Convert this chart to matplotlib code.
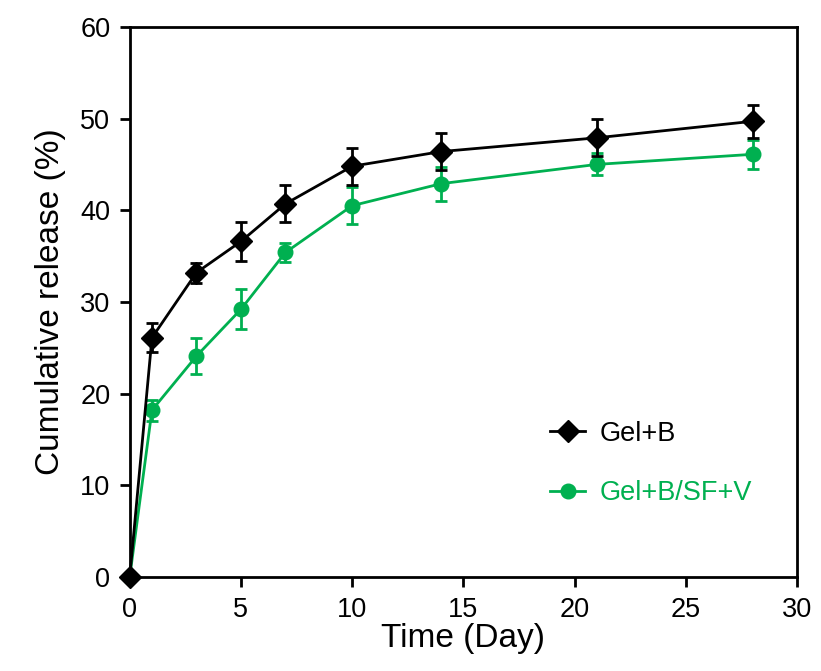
import matplotlib.pyplot as plt
from matplotlib.lines import Line2D

plt.rcParams['font.family'] = ['Liberation Sans', 'DejaVu Sans']

days = [0, 1, 3, 5, 7, 10, 14, 21, 28]

gel_b = [0, 26.1, 33.2, 36.6, 40.7, 44.8, 46.4, 47.9, 49.7]
gel_b_err = [0, 1.6, 1.1, 2.1, 2.0, 2.0, 2.0, 2.0, 1.8]

gel_b_sf_v = [0, 18.2, 24.1, 29.2, 35.4, 40.5, 42.9, 45.0, 46.1]
gel_b_sf_v_err = [0, 1.15, 2.0, 2.2, 1.05, 2.0, 1.85, 1.2, 1.6]

green = "#00B050"

fig = plt.figure(figsize=(8.21, 6.71), dpi=100)
ax = fig.add_axes([0.158, 0.140, 0.813, 0.820])

for y, err, col, mk, ms, z in [(gel_b, gel_b_err, "black", "D", 11, 3),
                               (gel_b_sf_v, gel_b_sf_v_err, green, "o", 10.5, 2)]:
    lines = ax.errorbar(days, y, yerr=err, color=col, marker=mk,
                        markersize=ms, lw=2, elinewidth=2, capsize=4,
                        capthick=2, zorder=z)
    for art in lines.lines:
        if art is None:
            continue
        if isinstance(art, tuple):
            for a in art:
                a.set_clip_on(False)
        else:
            art.set_clip_on(False)

ax.set_xlim(0, 30)
ax.set_ylim(0, 60)
ax.set_xticks(range(0, 31, 5))
ax.set_yticks(range(0, 61, 10))
ax.tick_params(direction="out", length=7, width=2, labelsize=19.5, pad=7)
for s in ax.spines.values():
    s.set_linewidth(2)

ax.set_xlabel("Time (Day)", fontsize=24, labelpad=0)
ax.set_ylabel("Cumulative release (%)", fontsize=24, labelpad=10)

handles = [Line2D([], [], color="black", marker="D", markersize=11, lw=2),
           Line2D([], [], color=green, marker="o", markersize=10.5, lw=2)]
ax.legend(handles, ["Gel+B", "Gel+B/SF+V"], loc="lower left",
          bbox_to_anchor=(0.593, 0.084), frameon=False, fontsize=19.5,
          labelcolor="linecolor", handlelength=1.3, handletextpad=0.55,
          labelspacing=1.25)

fig.savefig("out.png", dpi=100)
